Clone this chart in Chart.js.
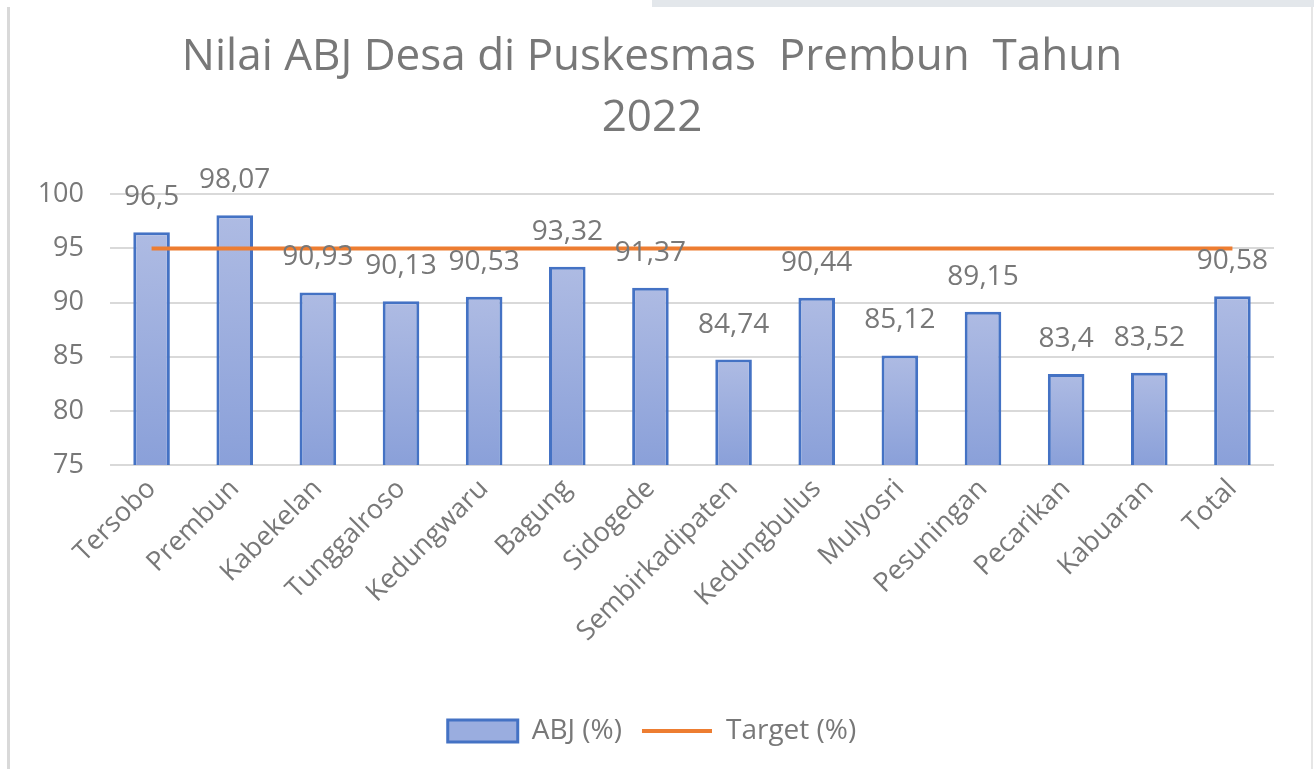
<!DOCTYPE html>
<html>
<head>
<meta charset="utf-8">
<script src="https://cdn.jsdelivr.net/npm/chart.js@4.4.0/dist/chart.umd.min.js"></script>
<style>
  html, body { margin: 0; padding: 0; background: #fff; }
  #wrap { position: relative; width: 1314px; height: 769px; overflow: hidden; }
  #topband { position: absolute; left: 652px; top: 0; width: 662px; height: 7px; background: #e3e7eb; }
  #leftline { position: absolute; left: 7px; top: 7px; width: 3px; height: 762px; background: #d9d9d9; }
  #rightline { position: absolute; left: 1311px; top: 7px; width: 2px; height: 762px; background: #e6e6e6; }
  canvas { position: absolute; left: 0; top: 0; }
</style>
</head>
<body>
<div id="wrap">
  <canvas id="chart" width="1314" height="769"></canvas>
  <div id="topband"></div>
  <div id="leftline"></div>
  <div id="rightline"></div>
</div>
<script>
// data
const villages = ["Tersobo", "Prembun", "Kabekelan", "Tunggalroso", "Kedungwaru", "Bagung",
  "Sidogede", "Sembirkadipaten", "Kedungbulus", "Mulyosri", "Pesuningan", "Pecarikan",
  "Kabuaran", "Total"];
const abjValues = [96.5, 98.07, 90.93, 90.13, 90.53, 93.32, 91.37, 84.74, 90.44, 85.12, 89.15, 83.4, 83.52, 90.58];
const targetValues = [95, 95, 95, 95, 95, 95, 95, 95, 95, 95, 95, 95, 95, 95];
const yTicks = [75, 80, 85, 90, 95, 100];

const textGray = '#787878';
const fontFam = '"Open Sans", "Noto Sans", sans-serif';

// gradient per bar, light at the top, darker at the base
function barFill(context) {
  const chart = context.chart;
  const area = chart.chartArea;
  if (!area || context.type !== 'data') return '#9aaddf';
  const yScale = chart.scales.y;
  const top = yScale.getPixelForValue(context.raw);
  const g = chart.ctx.createLinearGradient(0, top, 0, area.bottom);
  g.addColorStop(0, '#aebbe3');
  g.addColorStop(1, '#8aa0d9');
  return g;
}

// value labels above the bars (comma decimals like the source)
const barLabels = {
  id: 'barLabels',
  afterDatasetsDraw(chart) {
    const meta = chart.getDatasetMeta(0);
    const ctx = chart.ctx;
    ctx.save();
    ctx.font = '28px ' + fontFam;
    ctx.fillStyle = textGray;
    ctx.textAlign = 'center';
    ctx.textBaseline = 'middle';
    meta.data.forEach((bar, i) => {
      const txt = String(abjValues[i]).replace('.', ',');
      ctx.fillText(txt, bar.x, bar.y - 35);
    });
    ctx.restore();
  }
};

const ctx = document.getElementById('chart').getContext('2d');
new Chart(ctx, {
  type: 'bar',
  data: {
    labels: villages,
    datasets: [
      {
        label: 'ABJ (%)',
        data: abjValues,
        backgroundColor: barFill,
        borderColor: '#4472c4',
        borderWidth: 3,
        categoryPercentage: 1,
        barPercentage: 0.44,
        pointStyle: 'rect',
        order: 2
      },
      {
        type: 'line',
        label: 'Target (%)',
        data: targetValues,
        borderColor: '#ed7d31',
        backgroundColor: '#ed7d31',
        borderWidth: 4,
        pointRadius: 0,
        pointStyle: 'line',
        order: 1
      }
    ]
  },
  options: {
    responsive: false,
    animation: false,
    layout: { padding: { top: 0, left: 30, right: 40, bottom: 14 } },
    plugins: {
      title: {
        display: true,
        text: ['Nilai ABJ Desa di Puskesmas  Prembun  Tahun', '2022'],
        color: textGray,
        font: { family: fontFam, size: 44, weight: 'normal', lineHeight: 1.39 },
        padding: { top: 27, bottom: 45 }
      },
      legend: {
        position: 'bottom',
        labels: {
          color: textGray,
          font: { family: fontFam, size: 28 },
          usePointStyle: true,
          pointStyleWidth: 70,
          boxHeight: 22,
          padding: 20,
          sort: (a, b) => a.datasetIndex - b.datasetIndex,
          generateLabels(chart) {
            const items = Chart.defaults.plugins.legend.labels.generateLabels(chart);
            items.forEach(it => { if (it.datasetIndex === 0) it.fillStyle = '#9aaddf'; });
            return items;
          }
        }
      },
      tooltip: { enabled: false }
    },
    scales: {
      x: {
        grid: { display: false },
        border: { display: false },
        ticks: {
          color: textGray,
          font: { family: fontFam, size: 27 },
          maxRotation: 45,
          minRotation: 45,
          padding: 0
        },
        afterFit(scale) { scale.height = 232; }
      },
      y: {
        min: 75,
        max: 100,
        border: { display: false },
        grid: { color: '#d9d9d9', lineWidth: 2, drawTicks: false },
        afterBuildTicks(scale) { scale.ticks = yTicks.map(v => ({ value: v })); },
        ticks: {
          color: textGray,
          font: { family: fontFam, size: 27 },
          padding: 26
        },
        afterFit(scale) { scale.width = 80; }
      }
    }
  },
  plugins: [barLabels]
});
</script>
</body>
</html>
